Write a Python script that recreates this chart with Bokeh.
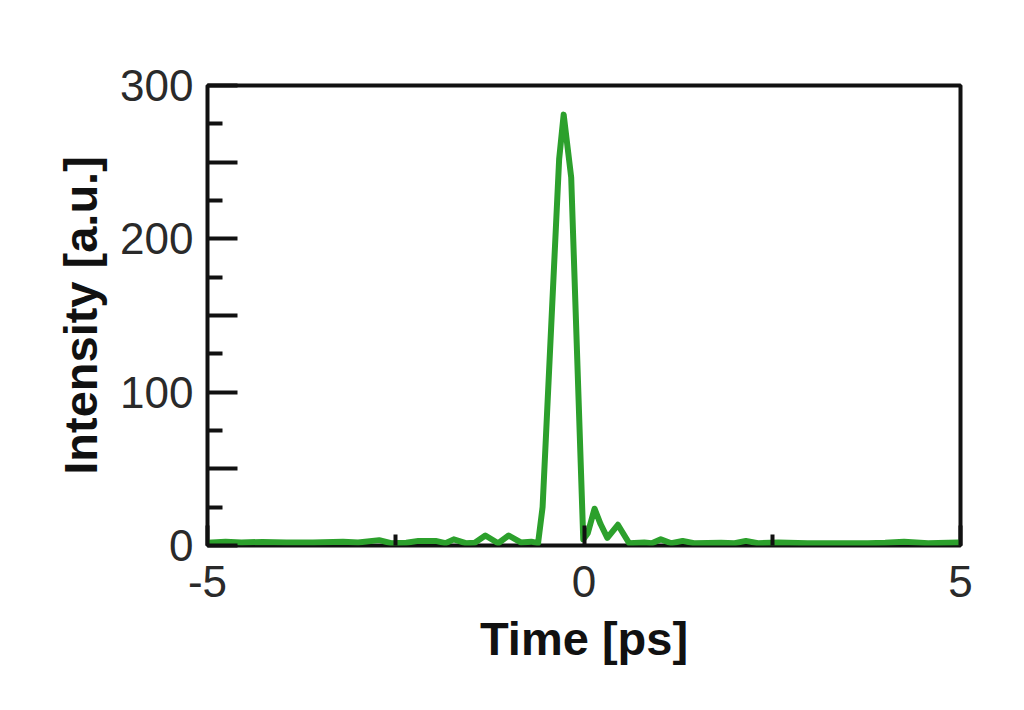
from bokeh.plotting import figure
from bokeh.models import Range1d, FixedTicker
from bokeh.embed import file_html
from bokeh.resources import INLINE

# Data
time_ps = [-5.0, -4.76, -4.55, -4.27, -3.95, -3.6, -3.2, -3.0, -2.72, -2.56,
           -2.36, -2.2, -1.97, -1.84, -1.73, -1.57, -1.45, -1.31, -1.14, -1.0,
           -0.84, -0.7, -0.61, -0.55, -0.33, -0.27, -0.17, -0.01, 0.05, 0.14,
           0.22, 0.31, 0.45, 0.6, 0.8, 0.9, 1.02, 1.16, 1.31, 1.46,
           1.82, 2.0, 2.15, 2.31, 2.58, 2.97, 3.37, 3.77, 4.0, 4.25,
           4.57, 4.97, 5.0]
intensity = [1.8, 2.5, 2.0, 2.3, 2.0, 2.0, 2.5, 2.0, 3.5, 1.5,
             1.8, 3.0, 3.0, 1.5, 4.0, 1.5, 1.8, 6.5, 1.5, 6.5,
             2.0, 2.5, 1.5, 25.0, 252.0, 281.0, 240.0, 4.0, 8.0, 24.0,
             14.0, 5.0, 13.5, 1.5, 2.0, 1.5, 4.0, 1.5, 3.0, 1.5,
             1.8, 1.5, 3.0, 1.5, 2.0, 1.5, 1.5, 1.5, 1.8, 2.5,
             1.5, 2.0, 2.0]

x_major = [-5, 0, 5]
x_minor = [-2.5, 2.5]
x_labels = {-5: "-5", 0: "0", 5: "5"}
y_major = [0, 50, 100, 150, 200, 250, 300]
y_minor = [25, 75, 125, 175, 225, 275]
y_labels = {0: "0", 50: "", 100: "100", 150: "", 200: "200", 250: "", 300: "300"}

p = figure(width=1016, height=702, output_backend="svg", toolbar_location=None,
           x_range=Range1d(-5, 5), y_range=Range1d(0, 300),
           min_border_left=207, min_border_right=56, min_border_top=85,
           min_border_bottom=157)
p.frame_width = 753
p.frame_height = 460

p.line(time_ps, intensity, line_color="#2ca02c", line_width=6, line_join="round")

p.grid.visible = False
p.outline_line_color = "#111111"
p.outline_line_width = 4
p.background_fill_color = "white"
p.border_fill_color = "white"

xa = p.xaxis[0]
xa.ticker = FixedTicker(ticks=x_major, minor_ticks=x_minor)
xa.major_label_overrides = x_labels
xa.axis_line_color = None
xa.major_tick_in = 20
xa.major_tick_out = 0
xa.minor_tick_in = 11
xa.minor_tick_out = 0
xa.major_tick_line_width = 4
xa.minor_tick_line_width = 4
xa.major_tick_line_color = "#111111"
xa.minor_tick_line_color = "#111111"
xa.major_label_text_font = "Liberation Sans"
xa.major_label_text_font_size = "44px"
xa.major_label_text_color = "#2a2a2a"
xa.major_label_standoff = 20
xa.axis_label = "Time [ps]"
xa.axis_label_text_font = "Liberation Sans"
xa.axis_label_text_font_style = "bold"
xa.axis_label_text_font_size = "47px"
xa.axis_label_text_color = "#111111"
xa.axis_label_standoff = 12

ya = p.yaxis[0]
ya.ticker = FixedTicker(ticks=y_major, minor_ticks=y_minor)
ya.major_label_overrides = y_labels
ya.axis_line_color = None
ya.major_tick_in = 30
ya.major_tick_out = 0
ya.minor_tick_in = 15
ya.minor_tick_out = 0
ya.major_tick_line_width = 4
ya.minor_tick_line_width = 4
ya.major_tick_line_color = "#111111"
ya.minor_tick_line_color = "#111111"
ya.major_label_text_font = "Liberation Sans"
ya.major_label_text_font_size = "44px"
ya.major_label_text_color = "#2a2a2a"
ya.major_label_standoff = 14
ya.axis_label = "Intensity [a.u.]"
ya.axis_label_text_font = "Liberation Sans"
ya.axis_label_text_font_style = "bold"
ya.axis_label_text_font_size = "47px"
ya.axis_label_text_color = "#111111"
ya.axis_label_standoff = 10

open("out.html", "w").write(file_html(p, INLINE))
